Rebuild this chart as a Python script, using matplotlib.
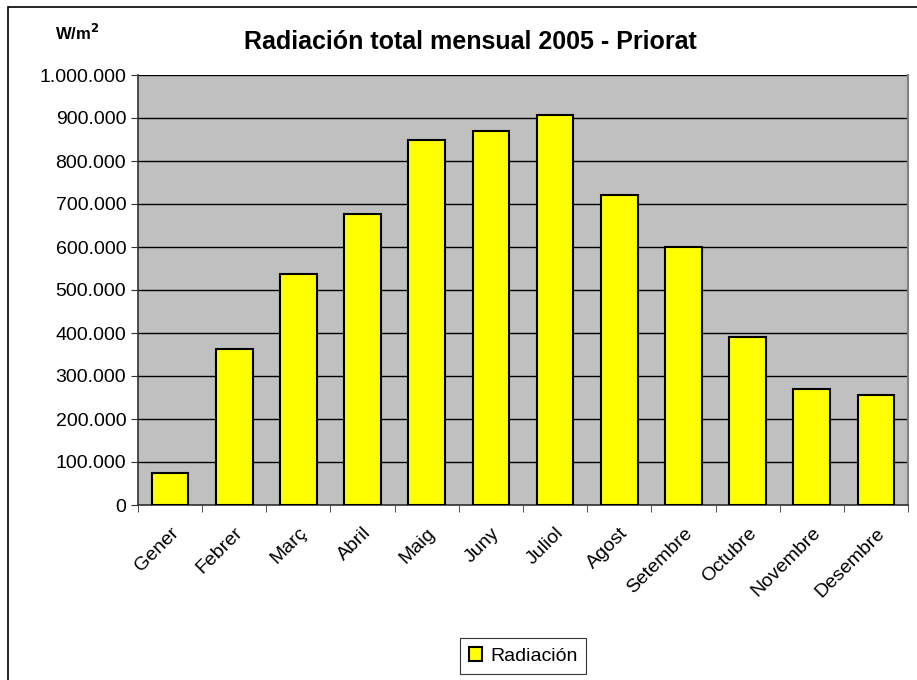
import matplotlib.pyplot as plt
from matplotlib.patches import Rectangle
from matplotlib.ticker import FuncFormatter, MultipleLocator, FixedLocator

# Data
months = ["Gener", "Febrer", "Març", "Abril", "Maig", "Juny",
          "Juliol", "Agost", "Setembre", "Octubre", "Novembre", "Desembre"]
radiacion = [75000, 363000, 538000, 677000, 848000, 870000,
             906000, 722000, 601000, 390000, 269000, 256000]

plt.rcParams["font.family"] = ["Liberation Sans", "DejaVu Sans"]

W, H = 917, 680
fig = plt.figure(figsize=(W / 100, H / 100), dpi=100)

# outer chart border
fig.patches.append(Rectangle((8 / W, -0.01), 1.0, 1 - 7 / H + 0.01,
                             transform=fig.transFigure, fill=False,
                             edgecolor="black", linewidth=1.2))

ax = fig.add_axes([138 / W, 1 - 505 / H, (908 - 138) / W, (505 - 75) / H])
ax.set_facecolor("#C0C0C0")

x = list(range(len(months)))
ax.bar(x, radiacion, width=0.57, color="#FFFF00", edgecolor="black",
       linewidth=1.5, label="Radiación", zorder=3)

ax.set_xlim(-0.5, len(months) - 0.5)
ax.set_ylim(0, 1000000)
ax.yaxis.set_major_locator(MultipleLocator(100000))
ax.yaxis.set_major_formatter(FuncFormatter(lambda v, p: f"{int(v):,}".replace(",", ".")))
ax.grid(axis="y", color="black", linewidth=1, zorder=1)

ax.set_xticks(x)
ax.set_xticklabels(months, rotation=45, ha="right", rotation_mode="anchor", fontsize=14)
ax.xaxis.set_minor_locator(FixedLocator([i - 0.5 for i in range(len(months) + 1)]))
ax.tick_params(axis="x", which="major", length=0, pad=14)
ax.tick_params(axis="x", which="minor", length=5, color="#333333")
ax.tick_params(axis="y", labelsize=14, length=5, color="#333333")

for side in ["left", "bottom"]:
    ax.spines[side].set_color("#333333")
    ax.spines[side].set_linewidth(1.2)
ax.spines["top"].set_visible(False)
ax.spines["right"].set_color("#808080")
ax.spines["right"].set_linewidth(1.5)

fig.text(470 / W, 1 - 42 / H, "Radiación total mensual 2005 - Priorat",
         ha="center", va="center", fontsize=18, fontweight="bold")
fig.text(55 / W, 1 - 33 / H, "W/m$^{\\mathbf{2}}$", ha="left", va="center",
         fontsize=12, fontweight="bold")

leg = ax.legend(loc="center", bbox_to_anchor=(523 / W, 1 - 656 / H),
                bbox_transform=fig.transFigure, fontsize=14, frameon=True,
                fancybox=False, edgecolor="black", handlelength=0.7,
                handleheight=0.7, handletextpad=0.4, borderpad=0.45)
leg.get_frame().set_linewidth(0.8)

fig.savefig("out.png", dpi=100)
